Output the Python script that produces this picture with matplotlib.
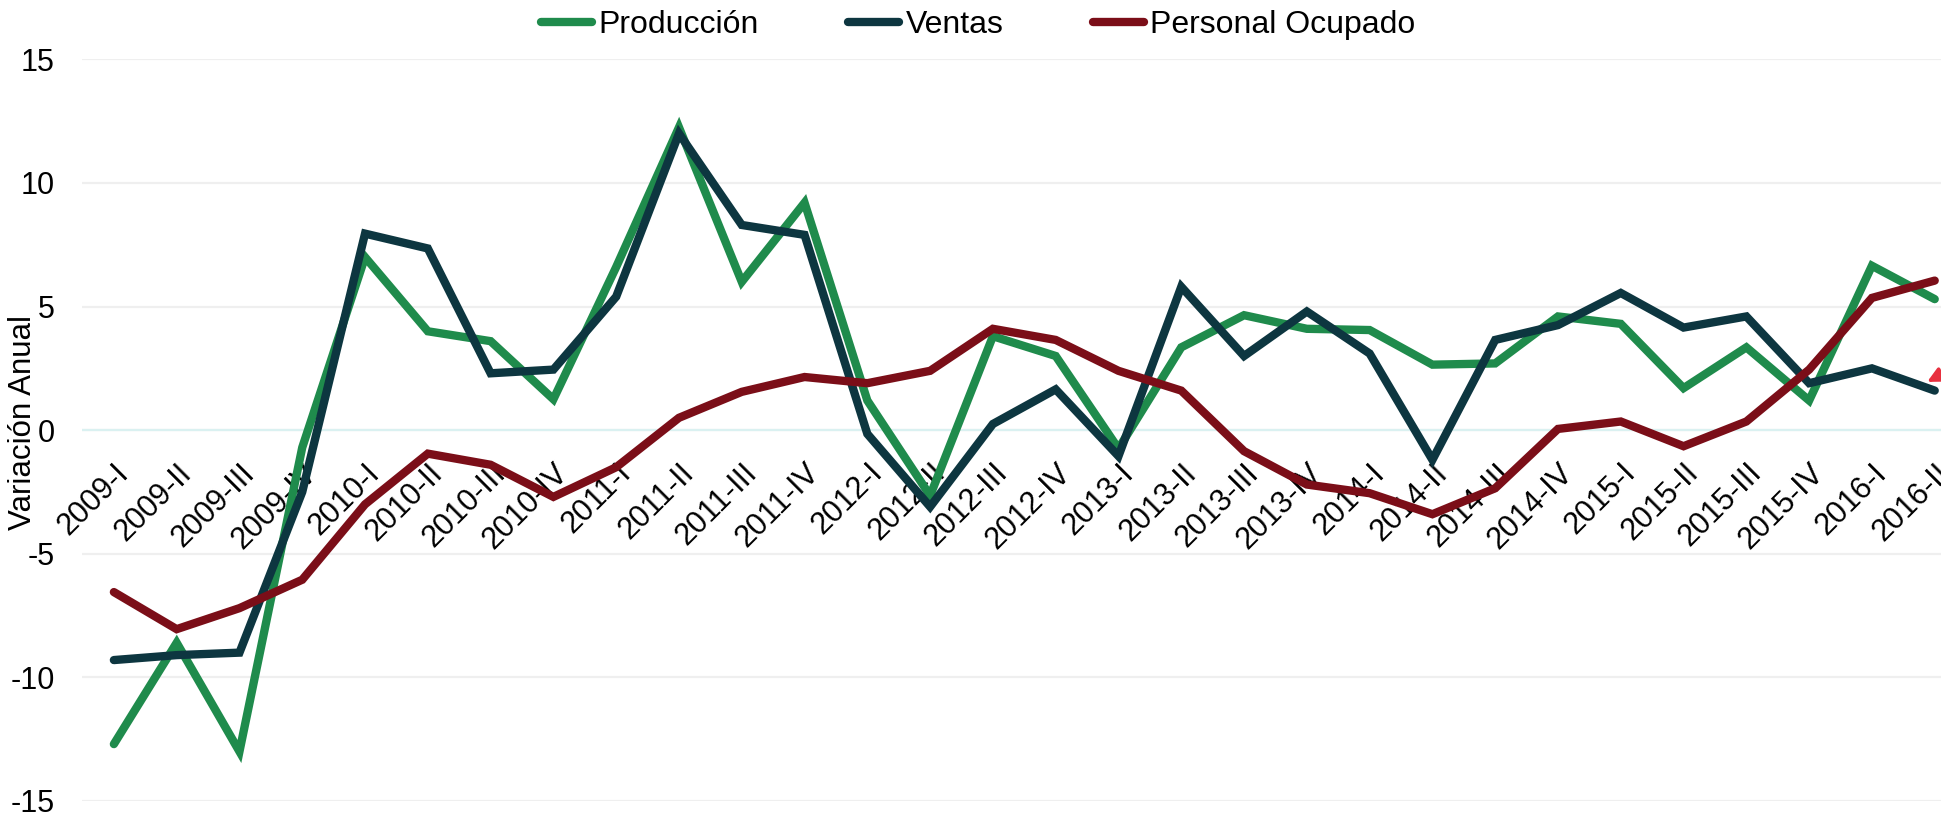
import matplotlib
matplotlib.use('Agg')
import numpy as np, matplotlib.pyplot as plt
import matplotlib.transforms as mtransforms

periods = ['2009-I', '2009-II', '2009-III', '2009-IV',
           '2010-I', '2010-II', '2010-III', '2010-IV',
           '2011-I', '2011-II', '2011-III', '2011-IV',
           '2012-I', '2012-II', '2012-III', '2012-IV',
           '2013-I', '2013-II', '2013-III', '2013-IV',
           '2014-I', '2014-II', '2014-III', '2014-IV',
           '2015-I', '2015-II', '2015-III', '2015-IV',
           '2016-I', '2016-II']
produccion = [-12.7, -8.6, -13.0, -0.7, 7.0, 4.0, 3.6, 1.25, 6.6, 12.25,
              6.0, 9.2, 1.2, -2.65, 3.8, 3.0, -0.75, 3.35, 4.65, 4.1,
              4.05, 2.65, 2.7, 4.6, 4.3, 1.7, 3.35, 1.2, 6.65, 5.3]
ventas = [-9.3, -9.1, -9.0, -2.5, 7.95, 7.35, 2.3, 2.45, 5.4, 12.0,
          8.3, 7.9, -0.15, -3.1, 0.25, 1.65, -1.05, 5.8, 3.0, 4.8,
          3.1, -1.2, 3.65, 4.25, 5.55, 4.15, 4.6, 1.9, 2.5, 1.6]
personal = [-6.55, -8.05, -7.2, -6.05, -3.0, -0.95, -1.4, -2.7, -1.5, 0.5,
            1.55, 2.15, 1.9, 2.4, 4.1, 3.65, 2.4, 1.6, -0.85, -2.2,
            -2.55, -3.4, -2.35, 0.05, 0.35, -0.65, 0.35, 2.45, 5.35, 6.05]

plt.rcParams['font.family'] = ['Liberation Sans', 'DejaVu Sans']
plt.rcParams['axes.unicode_minus'] = False

fig = plt.figure(figsize=(19.41, 8.13), dpi=100)
ax = fig.add_axes([0.0425, 0.0148, 0.9575, 0.9122])

x = np.arange(len(periods))
kw = dict(lw=6, solid_capstyle='round', solid_joinstyle='miter')
ax.plot(x, produccion, color='#1f8b4c', label='Producción', zorder=3, **kw)
ax.plot(x, ventas, color='#0d3640', label='Ventas', zorder=4, **kw)
ax.plot(x, personal, color='#7b0e18', label='Personal Ocupado', zorder=5, **kw)

ax.set_xlim(-0.5, 29.1)
ax.set_ylim(-15, 15)
ax.set_yticks([-15, -10, -5, 0, 5, 10, 15])
ax.yaxis.grid(True, color='#efefef', lw=1.6)
ax.axhline(0, color='#daf1f1', lw=1.6, zorder=1)
ax.set_axisbelow(True)

for s in ['top', 'right', 'left']:
    ax.spines[s].set_visible(False)
ax.spines['bottom'].set_position(('data', 0))
ax.spines['bottom'].set_visible(False)

# category labels hang below the zero line, ending just right of each point
ax.set_xticks(x)
ax.set_xticklabels(periods, rotation=45, ha='right', va='top', rotation_mode='anchor', fontsize=22)
shift = mtransforms.ScaledTranslation(4 / 72, 0, fig.dpi_scale_trans)
for lbl in ax.get_xticklabels():
    lbl.set_transform(lbl.get_transform() + shift)
ax.tick_params(axis='x', length=0, pad=20)
ax.tick_params(axis='y', length=0, labelsize=22, pad=20)
ax.set_ylabel('Variación Anual', fontsize=22.5, va='center')
ax.yaxis.set_label_coords(-0.0322, 0.51)

# small red arrow remnant at the right edge
ax.annotate('', xy=(28.84, 1.9), xytext=(29.6, 2.9),
            arrowprops=dict(arrowstyle='-|>', color='#e8303f', lw=2.5, mutation_scale=22),
            annotation_clip=False)

fig.legend(loc='center', bbox_to_anchor=(0.504, 0.969), ncol=3, frameon=False,
           fontsize=23, handlelength=1.6, handletextpad=0.2, columnspacing=2.8)

fig.savefig('out.png', dpi=100)
